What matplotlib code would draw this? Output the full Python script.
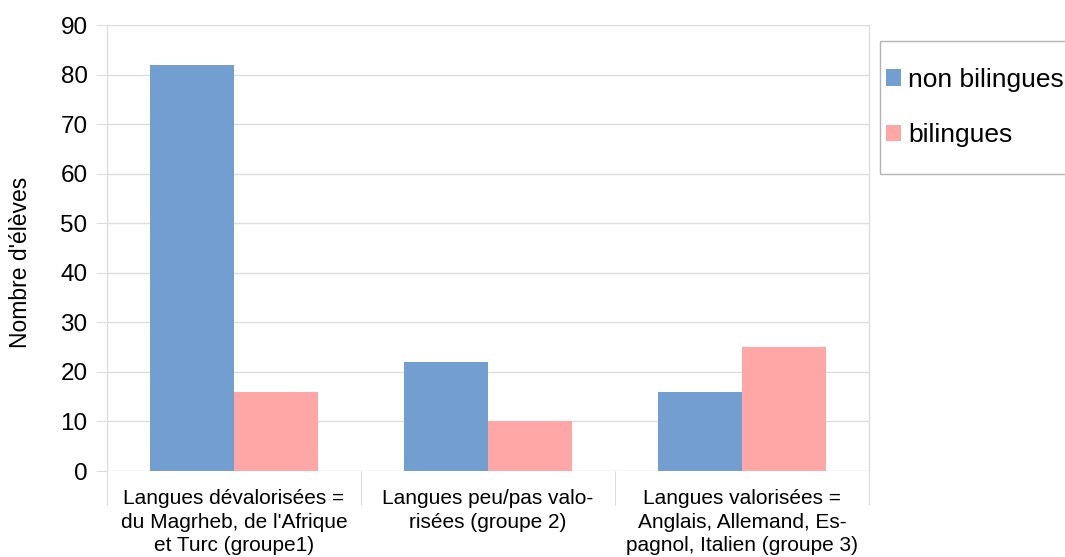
import matplotlib
matplotlib.use('Agg')
from matplotlib import pyplot as plt
from matplotlib.patches import Rectangle
import numpy as np

categories = ["Langues dévalorisées =\ndu Magrheb, de l'Afrique\net Turc (groupe1)",
              "Langues peu/pas valo-\nrisées (groupe 2)",
              "Langues valorisées =\nAnglais, Allemand, Es-\npagnol, Italien (groupe 3)"]
non_bilingues = [82, 22, 16]
bilingues = [16, 10, 25]
yticks = [0, 10, 20, 30, 40, 50, 60, 70, 80, 90]

plt.rcParams['font.family'] = ['Liberation Sans', 'DejaVu Sans']

grid_col = '#dddddd'

fig = plt.figure(figsize=(10.65, 5.57), dpi=100)
ax = fig.add_axes([107/1065, 1-471/557, (869-107)/1065, (471-25)/557])

x = np.arange(len(categories))
w = 0.33
ax.bar(x - w/2, non_bilingues, w, color='#729fcf', label='non bilingues', zorder=3)
ax.bar(x + w/2, bilingues, w, color='#ffa6a6', label='bilingues', zorder=3)

ax.set_xlim(-0.5, len(categories) - 0.5)
ax.set_ylim(0, 90)
ax.set_yticks(yticks)
ax.tick_params(axis='y', length=8, color=grid_col, pad=6, labelsize=17.5)
ax.yaxis.grid(True, color=grid_col, linewidth=1, zorder=0)

# category boundaries as major ticks, labels on minor ticks
ax.set_xticks(np.arange(len(categories) + 1) - 0.5)
ax.set_xticklabels([])
ax.tick_params(axis='x', which='major', length=24.5, color=grid_col)
ax.set_xticks(x, minor=True)
ax.set_xticklabels(categories, minor=True, fontsize=15, linespacing=1.3)
ax.tick_params(axis='x', which='minor', length=0, pad=13)

for side, s in ax.spines.items():
    s.set_color(grid_col)
    s.set_linewidth(1)
ax.spines['top'].set_visible(False)
ax.spines['bottom'].set_visible(False)

fig.text(21/1065, 1-(175+350)/2/557, "Nombre d'élèves", rotation=90,
         ha='center', va='center', fontsize=16.5)

# legend box drawn separately so the padding can differ per side
fig.patches.append(Rectangle((880/1065, 1-174/557), 200/1065, (174-41)/557,
                             transform=fig.transFigure, fill=False,
                             edgecolor='#b3b3b3', linewidth=1))
fig.legend(loc='center left', bbox_to_anchor=(886/1065, 1-107.5/557),
           fontsize=19, frameon=False, handlelength=0.58, handleheight=0.58,
           handletextpad=0.27, labelspacing=1.18, borderpad=0, borderaxespad=0)

plt.savefig('out.png', dpi=100)
